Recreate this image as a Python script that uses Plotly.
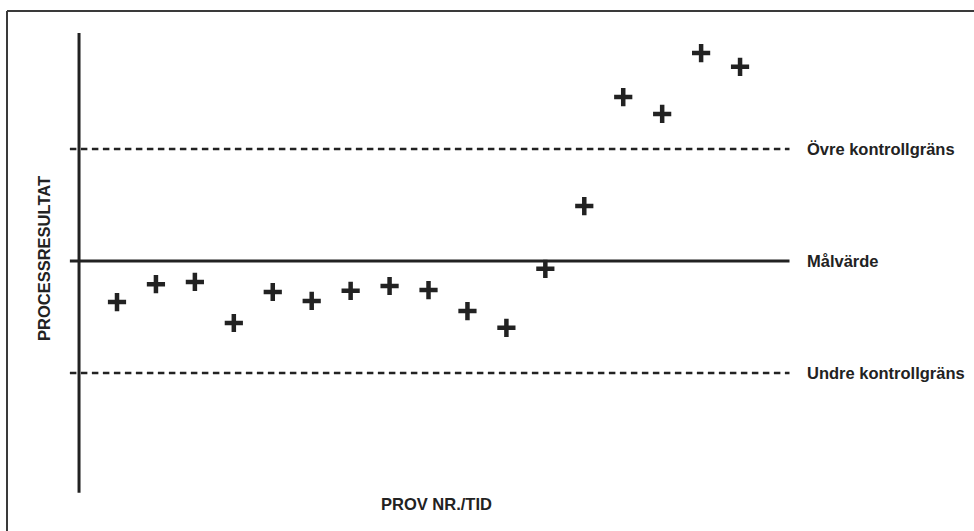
import plotly.graph_objects as go

# ---- data ----
sample_no = list(range(1, 18))
process_values = [-1.10, -0.62, -0.56, -1.66, -0.83, -1.07, -0.80, -0.67, -0.78,
                  -1.34, -1.79, -0.21, 1.47, 4.39, 3.94, 5.57, 5.20]
upper_limit = 3.0
target = 0.0
lower_limit = -3.0
line_labels = ["Övre kontrollgräns", "Målvärde", "Undre kontrollgräns"]
x_title = "PROV NR./TID"
y_title = "PROCESSRESULTAT"

W, H = 974, 531
INK = "#222222"
FONT = "Liberation Sans, Arial, sans-serif"

fig = go.Figure()

fig.add_trace(go.Scatter(
    x=sample_no, y=process_values, mode="markers",
    marker=dict(symbol="cross-thin", size=13, color=INK,
                line=dict(width=4.5, color=INK)),
    hoverinfo="x+y", showlegend=False,
))

x_start, x_end = -0.21, 18.27
# control / target lines
fig.add_shape(type="line", xref="x", yref="y", x0=x_start, x1=x_end,
              y0=upper_limit, y1=upper_limit,
              line=dict(color=INK, width=2.4, dash="6.5px,4.5px"))
fig.add_shape(type="line", xref="x", yref="y", x0=x_start, x1=x_end,
              y0=target, y1=target, line=dict(color=INK, width=3.2))
fig.add_shape(type="line", xref="x", yref="y", x0=x_start, x1=x_end,
              y0=lower_limit, y1=lower_limit,
              line=dict(color=INK, width=2.4, dash="6.5px,4.5px"))
# vertical axis line
fig.add_shape(type="line", xref="x", yref="y", x0=0.025, x1=0.025,
              y0=6.11, y1=-6.21, line=dict(color=INK, width=3))

# frame (top and left edges)
fig.add_shape(type="line", xref="paper", yref="paper",
              x0=7 / W, x1=1.0, y0=1 - 11 / H, y1=1 - 11 / H,
              line=dict(color="#3a3a3a", width=2))
fig.add_shape(type="line", xref="paper", yref="paper",
              x0=7 / W, x1=7 / W, y0=1 - 11 / H, y1=0,
              line=dict(color="#3a3a3a", width=2))

label_font = dict(family=FONT, size=16.5, color=INK, weight="bold")
for lab, yv in zip(line_labels, [upper_limit, target, lower_limit]):
    fig.add_annotation(x=18.66, y=yv, xref="x", yref="y", text=lab,
                       showarrow=False, xanchor="left", yanchor="middle",
                       font=label_font)

fig.add_annotation(x=436 / W, y=1 - 504 / H, xref="paper", yref="paper",
                   text=x_title, showarrow=False, xanchor="center",
                   yanchor="middle", font=label_font)
fig.add_annotation(x=44 / W, y=1 - 259 / H, xref="paper", yref="paper",
                   text=y_title, showarrow=False, textangle=-90,
                   xanchor="center", yanchor="middle", font=label_font)

fig.update_layout(
    width=W, height=H, autosize=False,
    margin=dict(l=0, r=0, t=0, b=0, pad=0),
    paper_bgcolor="white", plot_bgcolor="white",
    xaxis=dict(range=[-2.0046, 23.008], visible=False, fixedrange=True),
    yaxis=dict(range=[-7.232, 6.991], visible=False, fixedrange=True),
    showlegend=False,
)

fig.write_html("out.html",
               config={"displayModeBar": False},
               post_script="document.body.style.margin='0px';document.body.style.overflow='hidden';")
